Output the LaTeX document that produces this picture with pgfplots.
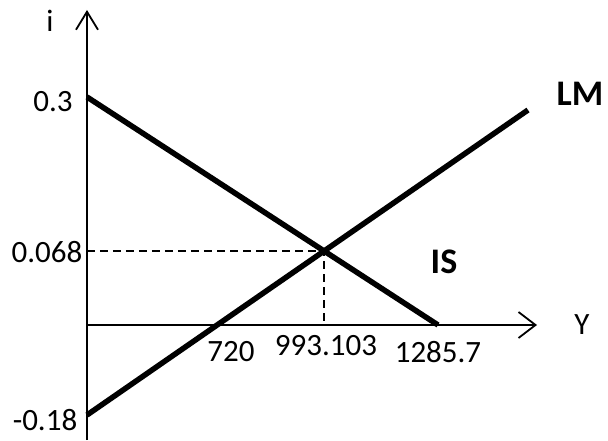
\documentclass[border=0pt]{standalone}
\usepackage{pgfplots}
\pgfplotsset{compat=1.18}
\usetikzlibrary{arrows.meta}
\usepackage{fontspec}
\setmainfont{Carlito}
\begin{document}
\begin{tikzpicture}
\begin{axis}[
  x=1pt, y=1pt,
  xmin=0, xmax=450, ymin=-115, ymax=315,
  axis lines=middle,
  axis line style={line width=1.8pt},
  x axis line style={-{Straight Barb[length=17pt,width=26pt,line width=1.8pt]}},
  y axis line style={-{Straight Barb[length=18pt,width=22pt,line width=1.8pt]}},
  clip=false,
  xtick=\empty, ytick=\empty,
]
\coordinate (bl) at (axis cs:-87,-115);
\coordinate (tr) at (axis cs:521,325);
% dashed guides to the equilibrium
\addplot[black, line width=1.5pt, dash pattern=on 8pt off 5pt] coordinates {(0,74) (237,74) (237,0)};
% IS curve
\addplot[black, line width=5.5pt] coordinates {(0,228) (351,0)};
% LM curve
\addplot[black, line width=5.5pt] coordinates {(0,-90) (441,215)};
\tikzset{lab/.style={font=\fontsize{31}{36}\selectfont, inner sep=0pt, anchor=center}}
\node[lab] at (axis cs:144,-27) {720};
\node[lab] at (axis cs:239,-21) {993.103};
\node[lab] at (axis cs:351,-27) {1285.7};
\node[lab] at (axis cs:-34,223) {0.3};
\node[lab] at (axis cs:-40,73) {0.068};
\node[lab] at (axis cs:-42,-95) {-0.18};
\node[lab] at (axis cs:-37,304) {i};
\node[lab] at (axis cs:495,0) {Y};
\node[lab, font=\fontsize{36}{40}\selectfont\bfseries] at (axis cs:493,231) {LM};
\node[lab, font=\fontsize{36}{40}\selectfont\bfseries] at (axis cs:357,63) {IS};
\end{axis}
\pgfresetboundingbox
\useasboundingbox (bl) rectangle (tr);
\end{tikzpicture}
\end{document}
